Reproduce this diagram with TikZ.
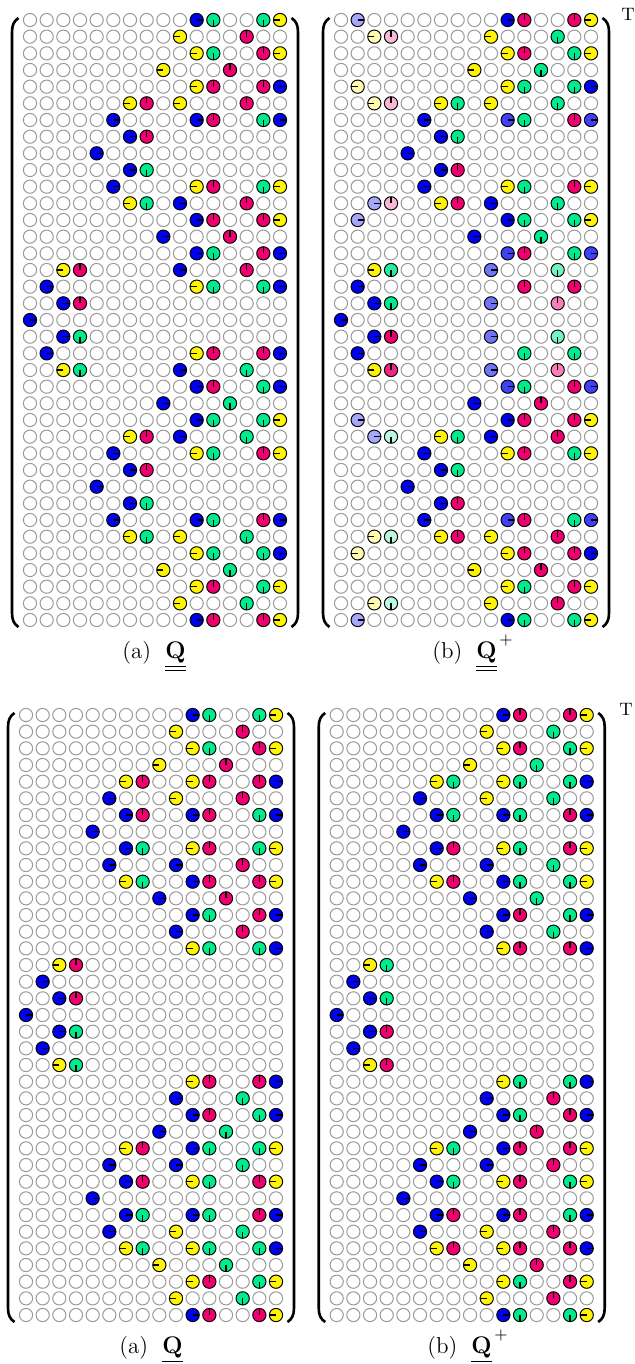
\documentclass[tikz,border=0pt]{standalone}
\usepackage{amsmath}
\definecolor{cB}{RGB}{0,0,240}
\definecolor{cY}{RGB}{255,245,0}
\definecolor{cP}{RGB}{240,0,110}
\definecolor{cG}{RGB}{0,235,140}
\colorlet{cLB}{cB!35!white}
\colorlet{cMB}{cB!75!white}
\colorlet{cMBB}{cB!55!white}
\colorlet{cLY}{cY!30!white}
\colorlet{cLP}{cP!28!white}
\colorlet{cLG}{cG!28!white}
\colorlet{cLGG}{cG!55!white}
\colorlet{cLPP}{cP!50!white}
\colorlet{cGG}{cG!85!white}
\colorlet{cPP}{cP!85!white}
\colorlet{emptygray}{black!40}
\newcommand\setang[2]{\expandafter\def\csname qa#1\endcsname{#2}}
\setang{B}{0}\setang{MB}{0}\setang{MBB}{0}\setang{LB}{0}
\setang{Y}{180}\setang{LY}{180}
\setang{P}{90}\setang{LP}{90}\setang{LPP}{90}\setang{PP}{90}
\setang{G}{270}\setang{LG}{270}\setang{LGG}{270}\setang{GG}{270}
\def\qs{16.667}
\def\qr{6.6}
\tikzset{
  emptyc/.style={draw=emptygray,line width=0.5pt},
  fullc/.style={draw=black,line width=0.45pt},
  tickc/.style={draw=black,line width=0.55pt},
  brk/.style={draw=black,line width=1.3pt},
  captext/.style={font=\fontsize{11.5}{13}\selectfont,inner sep=0pt},
  supt/.style={font=\fontsize{9}{11}\selectfont,inner sep=0pt}
}
\newcommand\qplus{^{\raisebox{1.5pt}{$\scriptstyle\,+$}}}
\newcommand\qmatrix[3]{%
  \begin{scope}[shift={(#1,-#2)}]
    \foreach \qrr in {1,...,37}{%
      \foreach \qcc in {1,...,16}{%
        \draw[emptyc] ({(\qcc-1)*\qs},{-(\qrr-1)*\qs}) circle[radius=\qr];
      }%
    }%
    \foreach \qrr/\qcc/\qk in {#3}{%
      \edef\qcol{c\qk}%
      \edef\qang{\csname qa\qk\endcsname}%
      \fill[fill=\qcol] ({(\qcc-1)*\qs},{-(\qrr-1)*\qs}) circle[radius=\qr];
      \draw[tickc] ({(\qcc-1)*\qs},{-(\qrr-1)*\qs}) -- ++(\qang:\qr);
      \draw[fullc] ({(\qcc-1)*\qs},{-(\qrr-1)*\qs}) circle[radius=\qr];
    }%
    \draw[brk] (-11.5,2) .. controls (-16,-1) and (-18,-5) .. (-18,-12)
      -- (-18,-593) .. controls (-18,-600) and (-16,-604) .. (-11.5,-607);
    \draw[brk] (261.5,2) .. controls (266,-1) and (268,-5) .. (268,-12)
      -- (268,-593) .. controls (268,-600) and (266,-604) .. (261.5,-607);
  \end{scope}%
}
\begin{document}
\begin{tikzpicture}[x=0.5pt,y=0.5pt]
\useasboundingbox (0,0) rectangle (634,-1364);
\fill[white] (0,0) rectangle (634,-1364);
% top-left
\qmatrix{30}{20}{%
1/11/B,1/12/G,1/15/G,1/16/Y,%
2/10/Y,2/14/P,%
3/11/Y,3/12/G,3/15/P,3/16/Y,%
4/9/Y,4/13/P,%
5/11/Y,5/12/P,5/15/P,5/16/B,%
6/7/Y,6/8/P,6/10/Y,6/14/P,%
7/6/B,7/11/B,7/12/P,7/15/G,7/16/B,%
8/7/B,8/8/P,%
9/5/B,%
10/7/B,10/8/G,%
11/6/B,11/11/Y,11/12/P,11/15/G,11/16/Y,%
12/7/Y,12/8/G,12/10/B,12/14/P,%
13/11/B,13/12/P,13/15/P,13/16/Y,%
14/9/B,14/13/P,%
15/11/B,15/12/G,15/15/P,15/16/B,%
16/3/Y,16/4/P,16/10/B,16/14/P,%
17/2/B,17/11/Y,17/12/G,17/15/G,17/16/B,%
18/3/B,18/4/P,%
19/1/B,%
20/3/B,20/4/G,%
21/2/B,21/11/Y,21/12/P,21/15/P,21/16/B,%
22/3/Y,22/4/G,22/10/B,22/14/G,%
23/11/B,23/12/P,23/15/G,23/16/B,%
24/9/B,24/13/G,%
25/11/B,25/12/G,25/15/G,25/16/Y,%
26/7/Y,26/8/P,26/10/B,26/14/G,%
27/6/B,27/11/Y,27/12/G,27/15/P,27/16/Y,%
28/7/B,28/8/P,%
29/5/B,%
30/7/B,30/8/G,%
31/6/B,31/11/B,31/12/G,31/15/P,31/16/B,%
32/7/Y,32/8/G,32/10/Y,32/14/G,%
33/11/Y,33/12/G,33/15/G,33/16/B,%
34/9/Y,34/13/G,%
35/11/Y,35/12/P,35/15/G,35/16/Y,%
36/10/Y,36/14/G,%
37/11/B,37/12/P,37/15/P,37/16/Y}
% top-right
\qmatrix{341}{20}{%
1/2/LB,1/11/B,1/12/P,1/15/P,1/16/Y,%
2/3/LY,2/4/LP,2/10/Y,2/14/G,%
3/11/Y,3/12/P,3/15/G,3/16/Y,%
4/9/Y,4/13/G,%
5/2/LY,5/11/Y,5/12/G,5/15/G,5/16/B,%
6/3/LY,6/4/LP,6/7/Y,6/8/G,6/10/Y,6/14/G,%
7/6/B,7/11/MB,7/12/G,7/15/P,7/16/MB,%
8/7/B,8/8/G,%
9/5/B,%
10/7/B,10/8/P,%
11/6/B,11/11/Y,11/12/G,11/15/P,11/16/Y,%
12/3/LB,12/4/LP,12/7/Y,12/8/P,12/10/B,12/14/G,%
13/2/LB,13/11/B,13/12/G,13/15/G,13/16/Y,%
14/9/B,14/13/G,%
15/11/MB,15/12/P,15/15/G,15/16/MB,%
16/3/Y,16/4/GG,16/10/MBB,16/14/LGG,%
17/2/B,17/12/P,17/15/P,%
18/3/B,18/4/G,18/10/MBB,18/14/LPP,%
19/1/B,%
20/3/B,20/4/P,20/10/MBB,20/14/LGG,%
21/2/B,21/12/G,21/15/G,%
22/3/Y,22/4/PP,22/10/MBB,22/14/LPP,%
23/11/MB,23/12/G,23/15/P,23/16/MB,%
24/9/B,24/13/P,%
25/2/LB,25/11/B,25/12/P,25/15/P,25/16/Y,%
26/3/LB,26/4/LG,26/7/Y,26/8/G,26/10/B,26/14/P,%
27/6/B,27/11/Y,27/12/P,27/15/G,27/16/Y,%
28/7/B,28/8/G,%
29/5/B,%
30/7/B,30/8/P,%
31/6/B,31/11/MB,31/12/P,31/15/G,31/16/MB,%
32/3/LY,32/4/LG,32/7/Y,32/8/P,32/10/Y,32/14/P,%
33/2/LY,33/11/Y,33/12/P,33/15/P,33/16/B,%
34/9/Y,34/13/P,%
35/11/Y,35/12/G,35/15/P,35/16/Y,%
36/3/LY,36/4/LG,36/10/Y,36/14/P,%
37/2/LB,37/11/B,37/12/G,37/15/G,37/16/Y}
% bottom-left
\qmatrix{26}{715}{%
1/11/B,1/12/G,1/15/G,1/16/Y,%
2/10/Y,2/14/P,%
3/11/Y,3/12/G,3/15/P,3/16/Y,%
4/9/Y,4/13/P,%
5/7/Y,5/8/P,5/11/Y,5/12/P,5/15/P,5/16/B,%
6/6/B,6/10/Y,6/14/P,%
7/7/B,7/8/P,7/11/B,7/12/P,7/15/G,7/16/B,%
8/5/B,%
9/7/B,9/8/G,9/11/Y,9/12/P,9/15/G,9/16/Y,%
10/6/B,10/10/B,10/14/P,%
11/7/Y,11/8/G,11/11/B,11/12/P,11/15/P,11/16/Y,%
12/9/B,12/13/P,%
13/11/B,13/12/G,13/15/P,13/16/B,%
14/10/B,14/14/P,%
15/11/Y,15/12/G,15/15/G,15/16/B,%
16/3/Y,16/4/P,%
17/2/B,%
18/3/B,18/4/P,%
19/1/B,%
20/3/B,20/4/G,%
21/2/B,%
22/3/Y,22/4/G,%
23/11/Y,23/12/P,23/15/P,23/16/B,%
24/10/B,24/14/G,%
25/11/B,25/12/P,25/15/G,25/16/B,%
26/9/B,26/13/G,%
27/7/Y,27/8/P,27/11/B,27/12/G,27/15/G,27/16/Y,%
28/6/B,28/10/B,28/14/G,%
29/7/B,29/8/P,29/11/Y,29/12/G,29/15/P,29/16/Y,%
30/5/B,%
31/7/B,31/8/G,31/11/B,31/12/G,31/15/P,31/16/B,%
32/6/B,32/10/Y,32/14/G,%
33/7/Y,33/8/G,33/11/Y,33/12/G,33/15/G,33/16/B,%
34/9/Y,34/13/G,%
35/11/Y,35/12/P,35/15/G,35/16/Y,%
36/10/Y,36/14/G,%
37/11/B,37/12/P,37/15/P,37/16/Y}
% bottom-right
\qmatrix{336.7}{715}{%
1/11/B,1/12/P,1/15/P,1/16/Y,%
2/10/Y,2/14/G,%
3/11/Y,3/12/P,3/15/G,3/16/Y,%
4/9/Y,4/13/G,%
5/7/Y,5/8/G,5/11/Y,5/12/G,5/15/G,5/16/B,%
6/6/B,6/10/Y,6/14/G,%
7/7/B,7/8/G,7/11/B,7/12/G,7/15/P,7/16/B,%
8/5/B,%
9/7/B,9/8/P,9/11/Y,9/12/G,9/15/P,9/16/Y,%
10/6/B,10/10/B,10/14/G,%
11/7/Y,11/8/P,11/11/B,11/12/G,11/15/G,11/16/Y,%
12/9/B,12/13/G,%
13/11/B,13/12/P,13/15/G,13/16/B,%
14/10/B,14/14/G,%
15/11/Y,15/12/P,15/15/P,15/16/B,%
16/3/Y,16/4/G,%
17/2/B,%
18/3/B,18/4/G,%
19/1/B,%
20/3/B,20/4/P,%
21/2/B,%
22/3/Y,22/4/P,%
23/11/Y,23/12/G,23/15/G,23/16/B,%
24/10/B,24/14/P,%
25/11/B,25/12/G,25/15/P,25/16/B,%
26/9/B,26/13/P,%
27/7/Y,27/8/G,27/11/B,27/12/P,27/15/P,27/16/Y,%
28/6/B,28/10/B,28/14/P,%
29/7/B,29/8/G,29/11/Y,29/12/P,29/15/G,29/16/Y,%
30/5/B,%
31/7/B,31/8/P,31/11/B,31/12/P,31/15/G,31/16/B,%
32/6/B,32/10/Y,32/14/P,%
33/7/Y,33/8/P,33/11/Y,33/12/P,33/15/P,33/16/B,%
34/9/Y,34/13/P,%
35/11/Y,35/12/G,35/15/P,35/16/Y,%
36/10/Y,36/14/P,%
37/11/B,37/12/G,37/15/G,37/16/Y}
% superscript T
\node[supt] (tA) at (628,-14) {$\mathrm{T}$};
\node[supt] (tB) at (626,-709) {$\mathrm{T}$};
% captions
\node[captext,anchor=base] (capA) at (154,-658) {(a)\hspace{7pt}$\underline{\underline{\mathbf{Q}}}$};
\node[captext,anchor=base] (capB) at (473,-658) {(b)\hspace{7pt}$\underline{\underline{\mathbf{Q}}}\qplus$};
\node[captext,anchor=base] (capC) at (151,-1353) {(a)\hspace{7pt}$\underline{\mathbf{Q}}$};
\node[captext,anchor=base] (capD) at (468,-1353) {(b)\hspace{7pt}$\underline{\mathbf{Q}}\qplus$};
\end{tikzpicture}
\end{document}
